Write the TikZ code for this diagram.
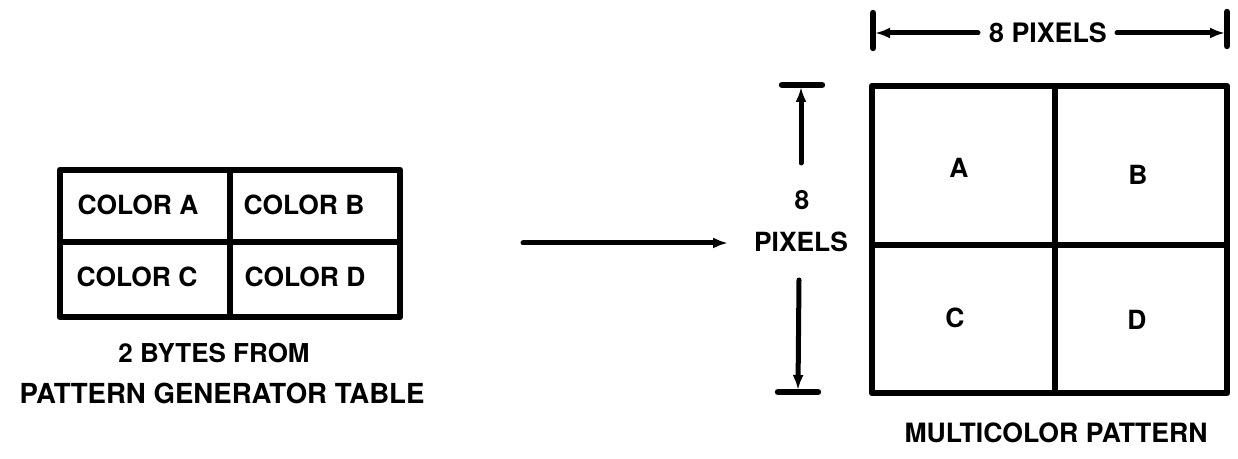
\documentclass[tikz,border=0pt]{standalone}
\usepackage{fontspec}
\setmainfont{TeX Gyre Heros}
\usetikzlibrary{arrows.meta}
\begin{document}
\begin{tikzpicture}[x=0.5pt,y=-0.5pt,
  lbl/.style={font=\fontsize{13.2}{15}\selectfont\bfseries, inner sep=0pt, text=black},
  captext/.style={font=\fontsize{13}{15}\selectfont\bfseries, inner sep=0pt, align=center},
  outerbox/.style={line width=3.4pt, line join=round},
  innerline/.style={line width=2.6pt},
  sqline/.style={line width=3.2pt},
  shaft/.style={line width=2.5pt, line cap=round, -{Latex[length=7.5pt,width=5.5pt]}},
  endbar/.style={line width=3.2pt, line cap=round}]
\useasboundingbox (0,0) rectangle (1238,459);

% left table
\draw[outerbox] (60,170) rectangle (400,317);
\draw[innerline] (230,170) -- (230,317);
\draw[innerline] (60,242) -- (400,242);
\node[lbl] (ca) at (138,205) {COLOR A};
\node[lbl] (cb) at (304,205) {COLOR B};
\node[lbl] (cc) at (137,277) {COLOR C};
\node[lbl] (cd) at (305,277) {COLOR D};
\node[captext] (capl1) at (214,353) {2 BYTES FROM};
\node[captext, font=\fontsize{13.8}{15}\selectfont\bfseries] (capl2) at (222,393) {PATTERN GENERATOR TABLE};

% main arrow
\coordinate (arrs) at (523,243);
\coordinate (arre) at (728,243);
\draw[shaft] (arrs) -- (arre);

% square
\draw[outerbox] (872,86) rectangle (1227,393);
\draw[sqline] (1055,86) -- (1055,393);
\draw[sqline] (872,245) -- (1227,245);
\node[lbl] (la) at (959,168) {A};
\node[lbl] (lb) at (1138,175) {B};
\node[lbl] (lc) at (955,318) {C};
\node[lbl] (ld) at (1137,320) {D};
\node[lbl, font=\fontsize{13.3}{15}\selectfont\bfseries] (capr) at (1056,433) {MULTICOLOR PATTERN};

% vertical dimension
\node[lbl] (v8) at (802,200) {8};
\node[lbl] (vpx) at (801,242) {PIXELS};
\coordinate (vt1) at (782,85); \coordinate (vt2) at (822,85);
\coordinate (vb1) at (778,392); \coordinate (vb2) at (818,392);
\draw[endbar] (vt1) -- (vt2);
\draw[endbar] (vb1) -- (vb2);
\coordinate (vus) at (801,163); \coordinate (vue) at (801,87);
\coordinate (vds) at (799,280); \coordinate (vde) at (798,390);
\draw[shaft] (vus) -- (vue);
\draw[shaft] (vds) -- (vde);

% horizontal dimension
\node[lbl, font=\fontsize{13.4}{15}\selectfont\bfseries] (h8) at (1048,33) {8 PIXELS};
\coordinate (hl1) at (873,13); \coordinate (hl2) at (873,48);
\coordinate (hr1) at (1227,12); \coordinate (hr2) at (1227,46);
\draw[endbar] (hl1) -- (hl2);
\draw[endbar] (hr1) -- (hr2);
\coordinate (hls) at (978,33); \coordinate (hle) at (875,33);
\coordinate (hrs) at (1117,33); \coordinate (hre) at (1225,33);
\draw[shaft] (hls) -- (hle);
\draw[shaft] (hrs) -- (hre);
\end{tikzpicture}
\end{document}
